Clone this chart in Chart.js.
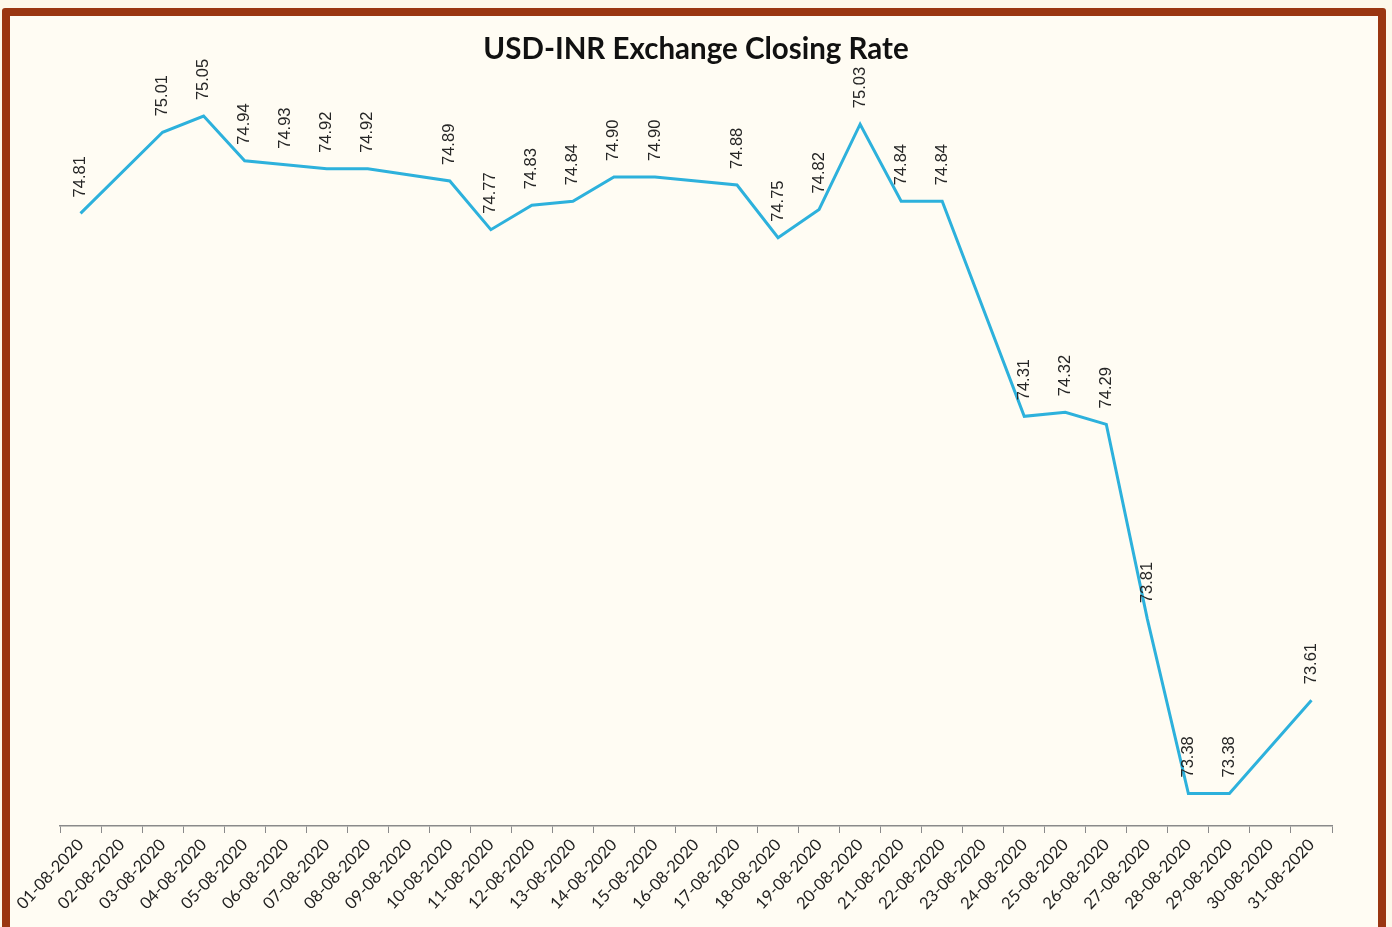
<!DOCTYPE html>
<html>
<head>
<meta charset="utf-8">
<title>USD-INR Exchange Closing Rate</title>
<script src="https://cdn.jsdelivr.net/npm/chart.js@4"></script>
<style>
    html, body { margin: 0; padding: 0; }
    body { width: 1392px; height: 927px; background: #fdf8ea; position: relative; overflow: hidden; }
    .frame {
        position: absolute; left: 2px; top: 8px; width: 1368px; height: 930px;
        border: 8px solid #9a3611; border-radius: 3px; background: #fffcf3;
    }
    #chart-wrap { position: absolute; left: 0; top: 0; width: 1392px; height: 927px; }
</style>
</head>
<body>
<div class="frame"></div>
<div id="chart-wrap"><canvas id="rate-chart"></canvas></div>
<script>
// Data
const dates = [
    '01-08-2020', '02-08-2020', '03-08-2020', '04-08-2020', '05-08-2020', '06-08-2020',
    '07-08-2020', '08-08-2020', '09-08-2020', '10-08-2020', '11-08-2020', '12-08-2020',
    '13-08-2020', '14-08-2020', '15-08-2020', '16-08-2020', '17-08-2020', '18-08-2020',
    '19-08-2020', '20-08-2020', '21-08-2020', '22-08-2020', '23-08-2020', '24-08-2020',
    '25-08-2020', '26-08-2020', '27-08-2020', '28-08-2020', '29-08-2020', '30-08-2020',
    '31-08-2020'
];
// null = no quote that day (line joins across it)
const closingRates = [
    74.81, null, 75.01, 75.05, 74.94, 74.93,
    74.92, 74.92, null, 74.89, 74.77, 74.83,
    74.84, 74.90, 74.90, null, 74.88, 74.75,
    74.82, 75.03, 74.84, 74.84, null, 74.31,
    74.32, 74.29, 73.81, 73.38, 73.38, null,
    73.61
];

// Vertical value labels above each point
const valueLabels = {
    id: 'valueLabels',
    afterDatasetsDraw(chart) {
        const ctx = chart.ctx;
        const meta = chart.getDatasetMeta(0);
        ctx.save();
        ctx.font = '16.5px "Liberation Sans", Arial, sans-serif';
        ctx.fillStyle = '#262626';
        ctx.textAlign = 'left';
        ctx.textBaseline = 'middle';
        meta.data.forEach((pt, i) => {
            const v = closingRates[i];
            if (v === null) return;
            ctx.save();
            ctx.translate(pt.x, pt.y - 16);
            ctx.rotate(-Math.PI / 2);
            ctx.fillText(v.toFixed(2), 0, 0);
            ctx.restore();
        });
        ctx.restore();
    }
};

const ctx = document.getElementById('rate-chart').getContext('2d');
const rateChart = new Chart(ctx, {
    type: 'line',
    data: {
        labels: dates,
        datasets: [{
            label: 'Closing Rate',
            data: closingRates,
            borderColor: '#2db1dc',
            borderWidth: 3,
            tension: 0,
            pointRadius: 0,
            spanGaps: true,
            fill: false
        }]
    },
    options: {
        responsive: true,
        maintainAspectRatio: false,
        animation: false,
        events: [],
        layout: { padding: { left: 60, right: 60, top: 0, bottom: 0 } },
        plugins: {
            legend: { display: false },
            tooltip: { enabled: false },
            title: {
                display: true,
                text: 'USD-INR Exchange Closing Rate',
                color: '#111',
                font: { family: 'Lato', size: 29.5, weight: 'bold' },
                padding: { top: 32, bottom: 0 }
            }
        },
        scales: {
            x: {
                offset: true,
                grid: {
                    offset: true,
                    drawOnChartArea: false,
                    drawTicks: true,
                    tickLength: 7,
                    color: '#8a8a8a'
                },
                border: { display: true, color: '#8a8a8a', width: 1.5 },
                ticks: {
                    minRotation: 47,
                    maxRotation: 47,
                    autoSkip: false,
                    padding: 2,
                    color: '#222',
                    font: { family: 'Lato', size: 16.5 }
                },
                afterFit(scale) { scale.height = 101; }
            },
            y: {
                display: false,
                min: 73.3,
                max: 75.17
            }
        }
    },
    plugins: [valueLabels]
});
</script>
</body>
</html>
